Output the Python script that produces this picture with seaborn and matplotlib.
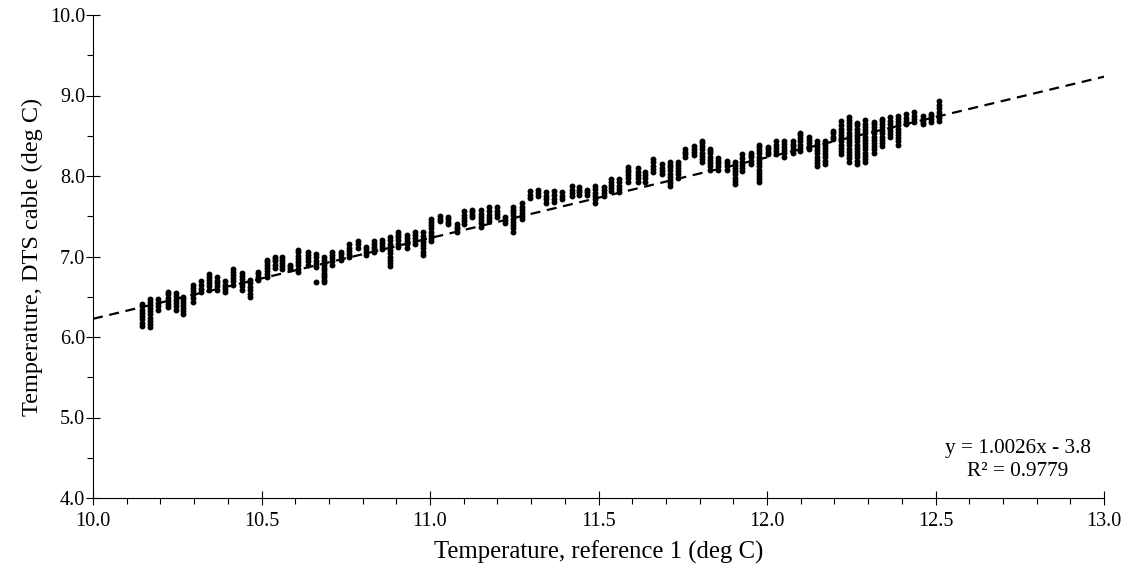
import numpy as np
import pandas as pd
import matplotlib
matplotlib.use("Agg")
import matplotlib.pyplot as plt
import seaborn as sns
from matplotlib.ticker import MultipleLocator, FormatStrFormatter

cluster_x = [
    10.146, 10.168, 10.193, 10.223, 10.247, 10.267, 10.297, 10.320, 10.345, 10.368,
    10.392, 10.416, 10.443, 10.466, 10.490, 10.517, 10.540, 10.561, 10.585, 10.609,
    10.639, 10.662, 10.686, 10.710, 10.737, 10.760, 10.787, 10.810, 10.835, 10.858,
    10.882, 10.906, 10.933, 10.956, 10.980, 11.004, 11.030, 11.054, 11.081, 11.100,
    11.126, 11.152, 11.176, 11.200, 11.224, 11.247, 11.274, 11.298, 11.320, 11.345,
    11.369, 11.393, 11.420, 11.443, 11.467, 11.490, 11.515, 11.538, 11.560, 11.589,
    11.616, 11.637, 11.663, 11.687, 11.711, 11.737, 11.758, 11.782, 11.806, 11.832,
    11.856, 11.880, 11.904, 11.927, 11.954, 11.975, 12.002, 12.026, 12.050, 12.076,
    12.097, 12.124, 12.147, 12.171, 12.195, 12.219, 12.242, 12.266, 12.290, 12.317,
    12.340, 12.364, 12.388, 12.412, 12.435, 12.462, 12.486, 12.510,
]
cluster_y = [
    [6.14, 6.18, 6.22, 6.26, 6.30, 6.34, 6.38, 6.41],
    [6.12, 6.16, 6.20, 6.24, 6.28, 6.32, 6.36, 6.40, 6.44, 6.47],
    [6.34, 6.38, 6.42, 6.47],
    [6.37, 6.41, 6.45, 6.49, 6.53, 6.56],
    [6.34, 6.38, 6.42, 6.46, 6.51, 6.55],
    [6.28, 6.32, 6.36, 6.40, 6.44, 6.47, 6.50],
    [6.44, 6.48, 6.53, 6.57, 6.61, 6.65],
    [6.56, 6.60, 6.64, 6.69],
    [6.59, 6.63, 6.67, 6.71, 6.75, 6.78],
    [6.59, 6.63, 6.67, 6.70, 6.74],
    [6.56, 6.60, 6.64, 6.69],
    [6.65, 6.69, 6.73, 6.77, 6.81, 6.84],
    [6.59, 6.63, 6.67, 6.72, 6.76, 6.80],
    [6.50, 6.54, 6.58, 6.62, 6.67, 6.71],
    [6.71, 6.75, 6.78, 6.81],
    [6.74, 6.78, 6.82, 6.86, 6.90, 6.93, 6.96],
    [6.86, 6.90, 6.94, 6.97, 7.00],
    [6.84, 6.88, 6.92, 6.96, 6.99],
    [6.84, 6.87, 6.90],
    [6.81, 6.85, 6.89, 6.93, 6.97, 7.01, 7.05, 7.08],
    [6.90, 6.94, 6.98, 7.02, 7.06],
    [6.68, 6.87, 6.91, 6.95, 6.99, 7.03],
    [6.68, 6.71, 6.74, 6.77, 6.80, 6.83, 6.86, 6.89, 6.92, 6.96, 7.00],
    [6.90, 6.94, 6.98, 7.02, 7.05],
    [6.96, 7.00, 7.03, 7.06],
    [6.99, 7.03, 7.07, 7.11, 7.15],
    [7.11, 7.15, 7.19],
    [7.02, 7.06, 7.09, 7.12],
    [7.05, 7.09, 7.12, 7.16, 7.19],
    [7.09, 7.13, 7.17, 7.21],
    [6.88, 6.92, 6.96, 7.00, 7.04, 7.08, 7.12, 7.16, 7.20, 7.24],
    [7.12, 7.16, 7.20, 7.24, 7.27, 7.30],
    [7.11, 7.15, 7.19, 7.23, 7.27],
    [7.15, 7.19, 7.23, 7.27, 7.30],
    [7.02, 7.06, 7.10, 7.14, 7.18, 7.22, 7.26, 7.30],
    [7.19, 7.23, 7.27, 7.31, 7.35, 7.39, 7.43, 7.46],
    [7.44, 7.47, 7.50],
    [7.40, 7.43, 7.46, 7.49],
    [7.31, 7.34, 7.37, 7.40],
    [7.40, 7.44, 7.48, 7.52, 7.56],
    [7.49, 7.52, 7.55, 7.58],
    [7.37, 7.41, 7.45, 7.49, 7.53, 7.58],
    [7.44, 7.48, 7.52, 7.56, 7.61],
    [7.49, 7.53, 7.57, 7.61],
    [7.42, 7.45, 7.49],
    [7.31, 7.35, 7.39, 7.43, 7.47, 7.51, 7.55, 7.58, 7.61],
    [7.46, 7.50, 7.54, 7.58, 7.62, 7.67],
    [7.73, 7.77, 7.81],
    [7.75, 7.79, 7.82],
    [7.67, 7.71, 7.75, 7.80],
    [7.68, 7.72, 7.76, 7.81],
    [7.71, 7.75, 7.80],
    [7.75, 7.79, 7.83, 7.87],
    [7.76, 7.80, 7.83, 7.86],
    [7.77, 7.80, 7.83],
    [7.67, 7.71, 7.75, 7.79, 7.84, 7.88],
    [7.75, 7.79, 7.83, 7.86],
    [7.81, 7.85, 7.89, 7.93, 7.96],
    [7.80, 7.84, 7.88, 7.92, 7.96],
    [7.93, 7.97, 8.01, 8.05, 8.08, 8.11],
    [7.93, 7.97, 8.01, 8.05, 8.10],
    [7.93, 7.97, 8.01, 8.05],
    [8.05, 8.09, 8.13, 8.17, 8.21],
    [8.02, 8.06, 8.10, 8.15],
    [7.87, 7.91, 7.95, 7.99, 8.03, 8.07, 8.11, 8.14, 8.17],
    [7.98, 8.02, 8.06, 8.10, 8.14, 8.17],
    [8.24, 8.27, 8.30, 8.33],
    [8.26, 8.30, 8.34, 8.37],
    [8.17, 8.21, 8.25, 8.29, 8.33, 8.37, 8.41, 8.44],
    [8.08, 8.12, 8.16, 8.20, 8.24, 8.28, 8.31, 8.34],
    [8.08, 8.12, 8.16, 8.19, 8.22],
    [8.08, 8.12, 8.16, 8.19],
    [7.90, 7.94, 7.98, 8.02, 8.06, 8.10, 8.14, 8.17],
    [8.06, 8.10, 8.14, 8.18, 8.22, 8.27],
    [8.15, 8.19, 8.23, 8.26, 8.29],
    [7.92, 7.96, 8.00, 8.04, 8.08, 8.12, 8.16, 8.20, 8.24, 8.28, 8.32, 8.36, 8.39],
    [8.27, 8.30, 8.33, 8.36],
    [8.27, 8.31, 8.35, 8.39, 8.43],
    [8.24, 8.28, 8.32, 8.36, 8.40, 8.43],
    [8.29, 8.33, 8.37, 8.40, 8.43],
    [8.31, 8.35, 8.39, 8.43, 8.47, 8.51, 8.54],
    [8.33, 8.37, 8.41, 8.45, 8.48],
    [8.12, 8.16, 8.20, 8.24, 8.28, 8.32, 8.36, 8.40, 8.43],
    [8.15, 8.19, 8.23, 8.27, 8.31, 8.35, 8.39, 8.43],
    [8.46, 8.49, 8.53, 8.56],
    [8.27, 8.31, 8.35, 8.39, 8.43, 8.47, 8.51, 8.55, 8.59, 8.63, 8.68],
    [8.18, 8.22, 8.26, 8.30, 8.34, 8.38, 8.42, 8.46, 8.50, 8.54, 8.58, 8.62, 8.66, 8.70, 8.73],
    [8.15, 8.19, 8.23, 8.27, 8.31, 8.35, 8.39, 8.43, 8.47, 8.51, 8.55, 8.59, 8.63, 8.66],
    [8.17, 8.21, 8.25, 8.29, 8.33, 8.37, 8.41, 8.45, 8.49, 8.53, 8.57, 8.61, 8.65, 8.69],
    [8.29, 8.33, 8.37, 8.41, 8.45, 8.49, 8.53, 8.57, 8.61, 8.64, 8.67],
    [8.37, 8.41, 8.45, 8.49, 8.53, 8.57, 8.61, 8.65, 8.68, 8.71],
    [8.48, 8.52, 8.56, 8.60, 8.64, 8.68, 8.73],
    [8.39, 8.43, 8.47, 8.51, 8.55, 8.59, 8.63, 8.67, 8.71, 8.74],
    [8.64, 8.68, 8.72, 8.77],
    [8.67, 8.71, 8.75, 8.80],
    [8.64, 8.67, 8.71, 8.74],
    [8.67, 8.71, 8.74, 8.77],
    [8.68, 8.72, 8.76, 8.80, 8.84, 8.88, 8.93],
]

# trendline reported on the chart
trend_slope = 1.0026
trend_intercept = -3.8
trend_x = [10.0, 13.0]
equation_text = "y = 1.0026x - 3.8\nR² = 0.9779"

x_label = "Temperature, reference 1 (deg C)"
y_label = "Temperature, DTS cable (deg C)"

# ---- build long table ----
rows_x, rows_y = [], []
for cx, ys in zip(cluster_x, cluster_y):
    for yv in ys:
        rows_x.append(cx)
        rows_y.append(yv)
df = pd.DataFrame({"ref": rows_x, "dts": rows_y})
trend_df = pd.DataFrame({"x": trend_x,
                         "y": [trend_slope * v + trend_intercept for v in trend_x]})

# ---- style ----
sns.set_theme(style="ticks")
plt.rcParams["font.family"] = ["Liberation Serif", "DejaVu Serif"]
plt.rcParams["axes.edgecolor"] = "black"
plt.rcParams["xtick.color"] = "black"
plt.rcParams["ytick.color"] = "black"

fig = plt.figure(figsize=(11.36, 5.76), dpi=100)
W, H = 1136, 576
ax = fig.add_axes([93 / W, (H - 498) / H, (1104 - 93) / W, (498 - 15) / H])

sns.scatterplot(data=df, x="ref", y="dts", color="black", s=18, linewidth=0,
                ax=ax, legend=False, zorder=3)
sns.lineplot(data=trend_df, x="x", y="y", color="black", linewidth=1.6,
             ax=ax, legend=False, zorder=2)
ax.lines[-1].set_dashes((4.5, 3.0))

ax.set_xlim(10.0, 13.0)
ax.set_ylim(4.0, 10.0)
ax.xaxis.set_major_locator(MultipleLocator(0.5))
ax.xaxis.set_minor_locator(MultipleLocator(0.1))
ax.yaxis.set_major_locator(MultipleLocator(1.0))
ax.yaxis.set_minor_locator(MultipleLocator(0.5))
ax.xaxis.set_major_formatter(FormatStrFormatter("%.1f"))
ax.yaxis.set_major_formatter(FormatStrFormatter("%.1f"))

ax.tick_params(axis="both", which="major", direction="inout", length=9.5,
               width=0.8, labelsize=14.5, colors="black")
ax.tick_params(axis="both", which="minor", direction="out", length=4,
               width=0.8, colors="black")
ax.tick_params(axis="x", which="major", pad=5)
ax.tick_params(axis="y", which="major", pad=1)

for side in ("top", "right"):
    ax.spines[side].set_visible(False)
for side in ("left", "bottom"):
    ax.spines[side].set_linewidth(0.8)
    ax.spines[side].set_color("black")

ax.set_xlabel(x_label, fontsize=17.8, labelpad=7, color="black")
ax.set_ylabel(y_label, fontsize=17.5, labelpad=5, color="black")

ax.text(12.745, 4.47, equation_text, ha="center", va="center", fontsize=15.3,
        color="black", linespacing=1.3)

fig.savefig("out.png", dpi=100, facecolor="white")
